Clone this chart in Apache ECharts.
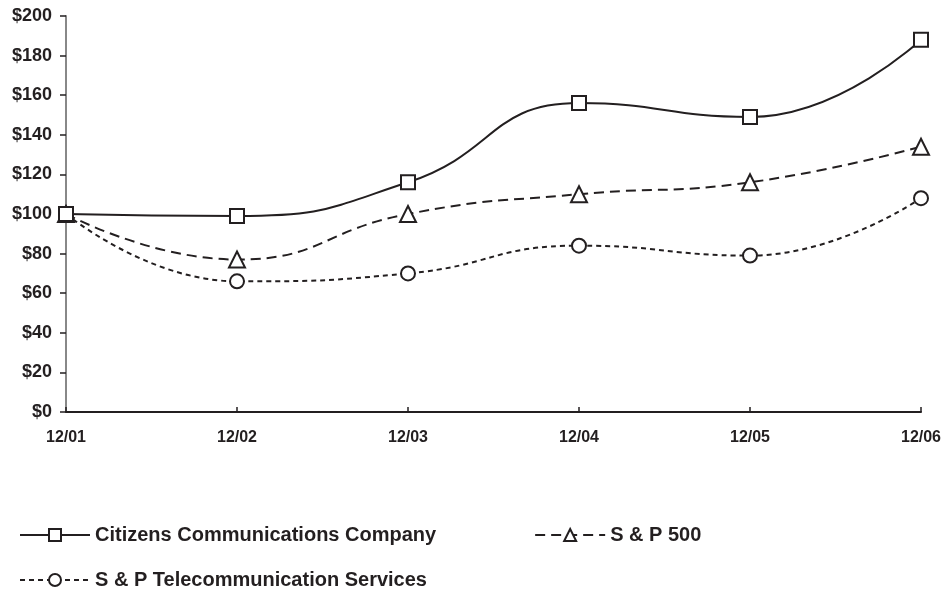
<!DOCTYPE html>
<html>
<head>
<meta charset="utf-8">
<script src="https://cdn.jsdelivr.net/npm/echarts@6/dist/echarts.min.js"></script>
<style>
html,body{margin:0;padding:0;background:#fff;}
#c{width:946px;height:601px;}
</style>
</head>
<body>
<div id="c"></div>
<script>
const categories = ['12/01','12/02','12/03','12/04','12/05','12/06'];
const citizens = [100, 99, 116, 156, 149, 188];
const sp500 = [100, 77, 100, 110, 116, 134];
const telecom = [100, 66, 70, 84, 79, 108];
const yTicks = [0, 20, 40, 60, 80, 100, 120, 140, 160, 180, 200];

const FONT = '"Liberation Sans", Arial, sans-serif';
const ink = '#231f20';

const chart = echarts.init(document.getElementById('c'), null, {renderer: 'canvas'});
const symStyle = {color: '#fff', borderColor: ink, borderWidth: 2};
chart.setOption({
  animation: false,
  backgroundColor: '#fff',
  grid: {left: 66, right: 25, top: 16, bottom: 189, containLabel: false},
  xAxis: {
    type: 'category',
    data: categories,
    boundaryGap: false,
    axisLine: {lineStyle: {color: ink, width: 2}},
    axisTick: {inside: true, length: 5, lineStyle: {color: ink, width: 1.5}, alignWithLabel: true},
    axisLabel: {color: ink, fontFamily: FONT, fontWeight: 'bold', fontSize: 16, margin: 18,
      showMinLabel: true, showMaxLabel: true, interval: 0},
    splitLine: {show: false}
  },
  yAxis: {
    type: 'value',
    min: yTicks[0],
    max: yTicks[yTicks.length - 1],
    interval: 20,
    axisLine: {show: true, lineStyle: {color: '#888', width: 2}},
    axisTick: {show: true, length: 6, lineStyle: {color: ink, width: 1.5}},
    axisLabel: {color: ink, fontFamily: FONT, fontWeight: 'bold', fontSize: 18, margin: 14,
      formatter: v => '$' + v},
    splitLine: {show: false}
  },
  legend: [
    {
      data: ['Citizens Communications Company', 'S & P 500'],
      left: 14, top: 520, orient: 'horizontal',
      itemWidth: 70, itemHeight: 15, itemGap: 98,
      textStyle: {color: ink, fontFamily: FONT, fontWeight: 'bold', fontSize: 20},
      selectedMode: false
    },
    {
      data: ['S & P Telecommunication Services'],
      left: 14, top: 565, orient: 'horizontal',
      itemWidth: 70, itemHeight: 15,
      textStyle: {color: ink, fontFamily: FONT, fontWeight: 'bold', fontSize: 20},
      selectedMode: false
    }
  ],
  series: [
    {
      name: 'Citizens Communications Company',
      type: 'line', data: citizens, smooth: 0.5,
      symbol: 'rect', symbolSize: 14,
      lineStyle: {color: ink, width: 2},
      itemStyle: symStyle, z: 3
    },
    {
      name: 'S & P 500',
      type: 'line', data: sp500, smooth: 0.5,
      symbol: 'triangle', symbolSize: 16,
      lineStyle: {color: ink, width: 2, type: [10, 6]},
      itemStyle: symStyle, z: 2
    },
    {
      name: 'S & P Telecommunication Services',
      type: 'line', data: telecom, smooth: 0.5,
      symbol: 'circle', symbolSize: 14,
      lineStyle: {color: ink, width: 2, type: [5, 4]},
      itemStyle: symStyle, z: 1
    }
  ]
});
</script>
</body>
</html>
